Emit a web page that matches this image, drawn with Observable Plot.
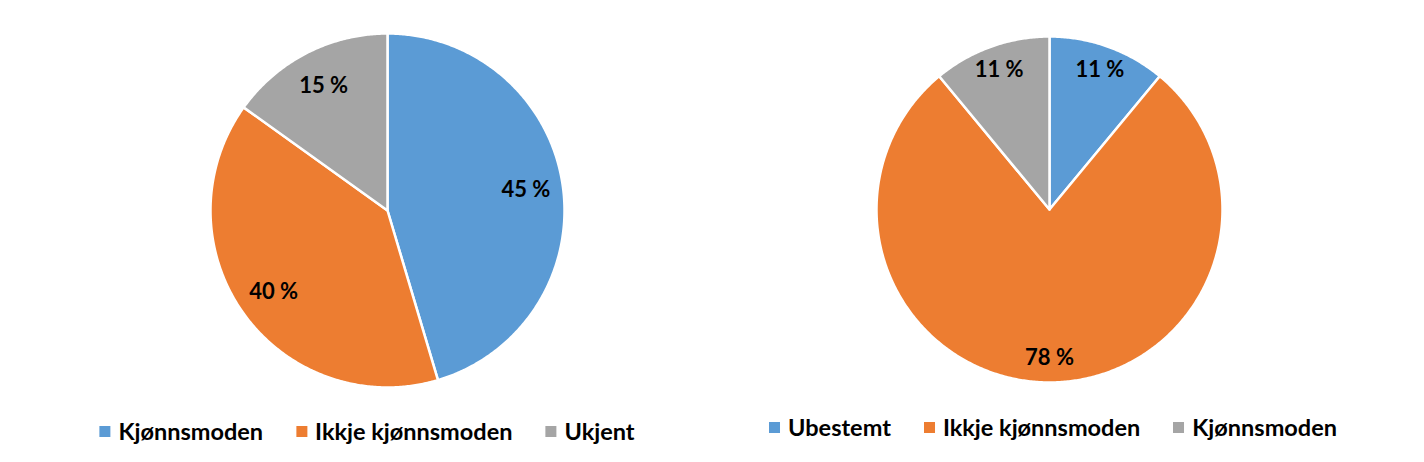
<!DOCTYPE html>
<html>
<head>
<meta charset="utf-8">
<script src="https://cdn.jsdelivr.net/npm/d3@7"></script>
<script src="https://cdn.jsdelivr.net/npm/@observablehq/plot@0.6"></script>
<style>
  html, body { margin: 0; padding: 0; background: #fff; }
  #wrap { position: relative; width: 1424px; height: 462px; overflow: hidden; font-family: Lato, "Open Sans", sans-serif; }
  .pie { position: absolute; top: 0; }
  .legend { position: absolute; display: flex; align-items: center; transform: translateX(-50%); white-space: nowrap;
            font-family: Lato, sans-serif; font-weight: 700; font-size: 23.5px; line-height: 28px; color: #000; }
  .legend .item { display: flex; align-items: center; margin-right: 33px; }
  .legend .item:last-child { margin-right: 0; }
  .legend .sw { width: 11px; height: 11px; margin-right: 8px; margin-top: 1px; }
</style>
</head>
<body>
<div id="wrap"></div>
<script>
// ---- Data ----
const leftCategories = ["Kjønnsmoden", "Ikkje kjønnsmoden", "Ukjent"];
const leftValues = [45.4, 39.5, 15.1];
const leftLabels = ["45 %", "40 %", "15 %"];

const rightCategories = ["Ubestemt", "Ikkje kjønnsmoden", "Kjønnsmoden"];
const rightValues = [11, 78, 11];
const rightLabels = ["11 %", "78 %", "11 %"];

const blue = "#5B9BD5", orange = "#ED7D31", gray = "#A5A5A5";
const leftColors = [blue, orange, gray];
const rightColors = [blue, orange, gray];

// ---- Build pie geometry from data ----
function pieData(categories, values, labels) {
  const total = d3.sum(values);
  let start = 0;
  const slices = [], pts = [];
  categories.forEach((c, i) => {
    const a0 = start / total * 2 * Math.PI;
    const a1 = (start + values[i]) / total * 2 * Math.PI;
    start += values[i];
    const n = Math.max(2, Math.ceil((a1 - a0) / (Math.PI / 360)));
    pts.push({cat: c, x: 0, y: 0});
    for (let k = 0; k <= n; k++) {
      const a = a0 + (a1 - a0) * k / n;
      pts.push({cat: c, x: Math.sin(a), y: -Math.cos(a)});
    }
    pts.push({cat: c, x: 0, y: 0});
    slices.push({cat: c, label: labels[i], mid: (a0 + a1) / 2});
  });
  return {slices, pts};
}

function drawPie({categories, values, labels, colors, width, height, cx, cy, r, labelR}) {
  const {slices, pts} = pieData(categories, values, labels);
  return Plot.plot({
    width, height, margin: 0,
    style: {background: "transparent", overflow: "visible"},
    x: {domain: [-1, 1], range: [cx - r, cx + r], axis: null},
    y: {domain: [-1, 1], range: [cy - r, cy + r], axis: null},
    color: {domain: categories, range: colors},
    marks: [
      Plot.line(pts, {x: "x", y: "y", z: "cat", fill: "cat", stroke: "white", strokeWidth: 2.5, strokeLinejoin: "round", curve: "linear"}),
      Plot.text(slices, {
        x: d => labelR * Math.sin(d.mid),
        y: d => -labelR * Math.cos(d.mid),
        text: "label",
        fill: "black",
        fontSize: 22,
        fontWeight: "bold",
        fontFamily: "Lato, sans-serif"
      })
    ]
  });
}

function legend(categories, colors, centerX, top) {
  const div = document.createElement("div");
  div.className = "legend";
  div.style.left = centerX + "px";
  div.style.top = top + "px";
  categories.forEach((c, i) => {
    const it = document.createElement("div");
    it.className = "item";
    const sw = document.createElement("span");
    sw.className = "sw";
    sw.style.background = colors[i];
    const t = document.createElement("span");
    t.textContent = c;
    it.appendChild(sw); it.appendChild(t);
    div.appendChild(it);
  });
  return div;
}

const wrap = document.getElementById("wrap");

const left = drawPie({categories: leftCategories, values: leftValues, labels: leftLabels, colors: leftColors,
  width: 712, height: 400, cx: 387, cy: 210, r: 177, labelR: 0.79});
left.classList.add("pie"); left.style.left = "0px";
wrap.appendChild(left);

const right = drawPie({categories: rightCategories, values: rightValues, labels: rightLabels, colors: rightColors,
  width: 712, height: 400, cx: 337, cy: 209, r: 173, labelR: 0.86});
right.classList.add("pie"); right.style.left = "712px";
wrap.appendChild(right);

wrap.appendChild(legend(leftCategories, leftColors, 367, 417));
wrap.appendChild(legend(rightCategories, rightColors, 1053, 413));
</script>
</body>
</html>
